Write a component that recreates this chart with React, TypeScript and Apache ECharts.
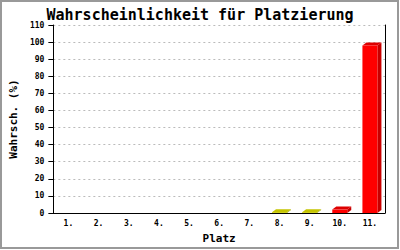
import React, { useEffect, useRef } from "react";
import * as echarts from "echarts";

const categories = ["1.", "2.", "3.", "4.", "5.", "6.", "7.", "8.", "9.", "10.", "11."];
const values = [0, 0, 0, 0, 0, 0, 0, 0.5, 0.5, 2, 98];
const frontColors = ["#cccc00", "#cccc00", "#cccc00", "#cccc00", "#cccc00", "#cccc00", "#cccc00", "#cccc00", "#cccc00", "#ff0000", "#ff0000"];
const topColors = ["#bbbb00", "#bbbb00", "#bbbb00", "#bbbb00", "#bbbb00", "#bbbb00", "#bbbb00", "#c4c400", "#c4c400", "#dd0000", "#dd0000"];
const sideColors = ["#999900", "#999900", "#999900", "#999900", "#999900", "#999900", "#999900", "#a0a000", "#a0a000", "#c80000", "#c80000"];
const yTicks = [0, 10, 20, 30, 40, 50, 60, 70, 80, 90, 100, 110];

const FONT = "DejaVu Sans Mono";

export default function App() {
  const ref = useRef<HTMLDivElement>(null);
  useEffect(() => {
    if (!ref.current) return;
    const chart = echarts.init(ref.current, undefined, { renderer: "svg" });
    const data = values.map((v, i) => [i, v]);
    chart.setOption({
      animation: false,
      backgroundColor: "#ffffff",
      title: {
        text: "Wahrscheinlichkeit für Platzierung",
        left: "center",
        top: 2,
        textStyle: { fontFamily: FONT, fontSize: 15, fontWeight: "bold", color: "#000" },
      },
      grid: { left: 48, right: 15, top: 25, bottom: 37 },
      xAxis: {
        type: "category",
        data: categories,
        name: "Platz",
        nameLocation: "middle",
        nameGap: 20,
        nameTextStyle: { fontFamily: FONT, fontSize: 11, fontWeight: "bold", color: "#000" },
        axisLine: { lineStyle: { color: "#000", width: 1 } },
        axisTick: { show: false },
        axisLabel: { fontFamily: FONT, fontSize: 8, fontWeight: "bold", color: "#000", margin: 6 },
        splitLine: { show: false },
      },
      yAxis: [
        {
          type: "value",
          min: 0,
          max: 110,
          interval: 10,
          name: "Wahrsch. (%)",
          nameLocation: "middle",
          nameGap: 30,
          nameTextStyle: { fontFamily: FONT, fontSize: 11, fontWeight: "bold", color: "#000" },
          axisLine: { show: true, lineStyle: { color: "#000", width: 1 } },
          axisTick: { show: true, length: 5, lineStyle: { color: "#000" } },
          axisLabel: {
            fontFamily: FONT,
            fontSize: 8,
            fontWeight: "bold",
            color: "#000",
            margin: 9,
            formatter: (v: number) => (yTicks.includes(v) ? String(v) : ""),
          },
          splitLine: { show: true, lineStyle: { color: "#bbbbbb", type: [2, 3], width: 1 } },
        },
        {
          type: "value",
          min: 0,
          max: 110,
          interval: 10,
          position: "right",
          axisLine: { show: true, lineStyle: { color: "#000", width: 1 } },
          axisTick: { show: false },
          axisLabel: { show: false },
          splitLine: { show: false },
        },
      ],
      graphic: [
        {
          type: "rect",
          shape: { x: 1, y: 1, width: 397, height: 247 },
          style: { fill: "none", stroke: "#999999", lineWidth: 2 },
          silent: true,
        },
      ],
      series: [
        {
          type: "custom",
          data,
          renderItem: (params: any, api: any) => {
            const idx = api.value(0);
            const v = api.value(1);
            if (!v) return null;
            const top = api.coord([idx, v]);
            const base = api.coord([idx, 0]);
            const w = 15;
            const dx = 4;
            const dy = 3;
            const l = top[0] - w / 2;
            const r = top[0] + w / 2;
            const t = top[1];
            const b = base[1];
            const i = params.dataIndex;
            return {
              type: "group",
              children: [
                {
                  type: "polygon",
                  shape: { points: [[r, t], [r + dx, t - dy], [r + dx, b - dy], [r, b]] },
                  style: { fill: sideColors[i] },
                },
                {
                  type: "polygon",
                  shape: { points: [[l, t], [l + dx, t - dy], [r + dx, t - dy], [r, t]] },
                  style: { fill: topColors[i] },
                },
                {
                  type: "rect",
                  shape: { x: l, y: t, width: w, height: b - t },
                  style: { fill: frontColors[i] },
                },
              ],
            };
          },
        },
      ],
    });
    return () => chart.dispose();
  }, []);
  return (
    <div
      ref={ref}
      style={{ position: "fixed", left: 0, top: 0, width: 400, height: 250 }}
    />
  );
}
